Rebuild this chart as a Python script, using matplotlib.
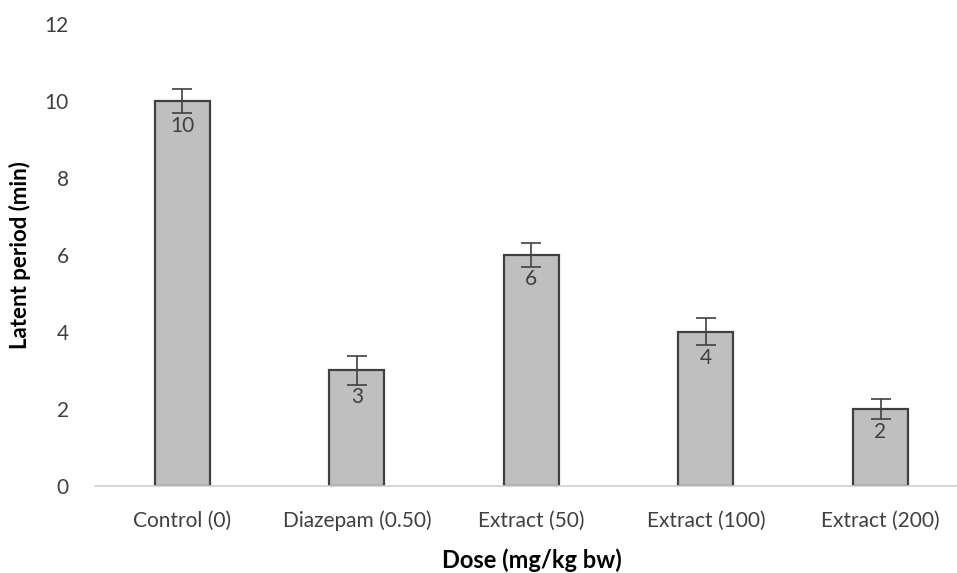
import matplotlib.pyplot as plt

categories = ["Control (0)", "Diazepam (0.50)", "Extract (50)", "Extract (100)", "Extract (200)"]
values = [10, 3, 6, 4, 2]
errors = [0.32, 0.38, 0.3, 0.35, 0.27]

plt.rcParams["font.family"] = ["Lato", "DejaVu Sans"]

fig = plt.figure(figsize=(9.57, 5.73), dpi=100)
ax = fig.add_axes([0.0993, 0.152, 0.912, 0.806])

x = range(len(categories))
ax.bar(x, values, width=0.315, color="#bfbfbf", edgecolor="#404040", linewidth=1.6, zorder=2)
ax.errorbar(x, values, yerr=errors, fmt="none", ecolor="#404040", elinewidth=1.2,
            capsize=7, capthick=1.2, zorder=3)

# valores dentro da barra, logo abaixo da barra de erro
for i, v in enumerate(values):
    ax.text(i, v - errors[i] - 0.06, str(v), ha="center", va="top", fontsize=15,
            color="#404040", zorder=4)

ax.set_xlim(-0.5, 4.5)
ax.set_ylim(0, 12)
ax.set_yticks(range(0, 13, 2))
ax.set_xticks(list(x))
ax.set_xticklabels(categories)
ax.tick_params(axis="both", length=0, labelsize=15, colors="#404040")
ax.tick_params(axis="y", pad=19)
ax.tick_params(axis="x", pad=18)

for s in ["top", "right", "left"]:
    ax.spines[s].set_visible(False)
ax.spines["bottom"].set_color("#d0d0d0")
ax.spines["bottom"].set_linewidth(1.2)

ax.set_ylabel("Latent period (min)", fontsize=16, fontweight="bold", color="#000000", labelpad=10)
ax.set_xlabel("Dose (mg/kg bw)", fontsize=17, fontweight="bold", color="#000000", labelpad=12)

fig.savefig("out.png", dpi=100)
